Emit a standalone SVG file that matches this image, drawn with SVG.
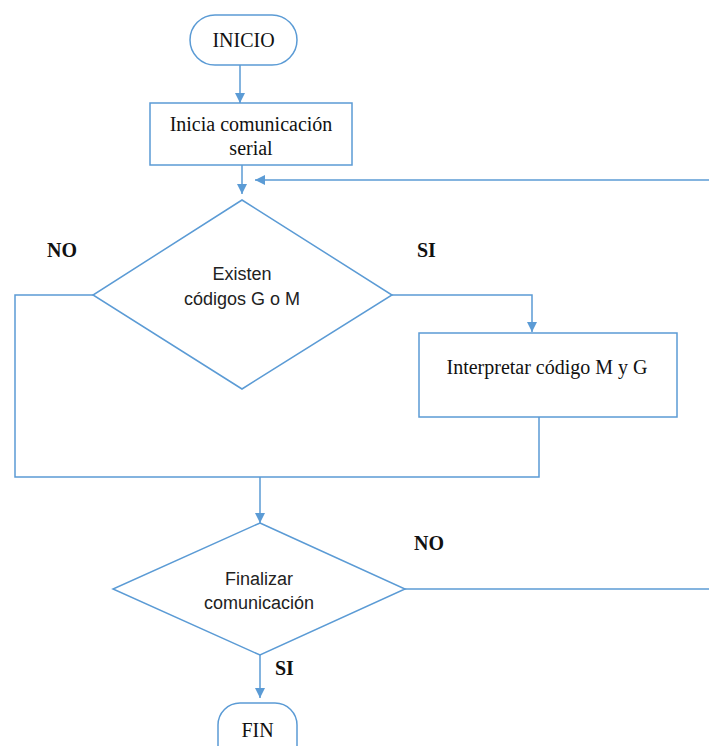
<svg xmlns="http://www.w3.org/2000/svg" width="709" height="746" viewBox="0 0 709 746">
  <style>
    .shape { fill: #ffffff; stroke: #5b9bd5; stroke-width: 1.5; }
    .line { fill: none; stroke: #5b9bd5; stroke-width: 1.5; }
    .serif { font-family: "Liberation Serif", "Times New Roman", serif; font-size: 20px; fill: #111; }
    .sans { font-family: "Liberation Sans", Arial, sans-serif; font-size: 18px; fill: #222; }
    .lbl { font-family: "Liberation Serif", "Times New Roman", serif; font-size: 20px; font-weight: bold; fill: #111; }
  </style>
  <defs>
    <marker id="arrow" viewBox="0 0 10 10" refX="10" refY="5" markerWidth="10" markerHeight="10" markerUnits="userSpaceOnUse" orient="auto">
      <path d="M0,0 L10,5 L0,10 Z" fill="#5b9bd5"/>
    </marker>
  </defs>
  <rect width="709" height="746" fill="#ffffff"/>

  <g id="connectors">
    <line class="line" x1="240" y1="65" x2="240" y2="103" marker-end="url(#arrow)"/>
    <line class="line" x1="242" y1="165" x2="242" y2="194" marker-end="url(#arrow)"/>
    <line class="line" x1="709" y1="180" x2="255" y2="180" marker-end="url(#arrow)"/>
    <polyline class="line" points="392,295 532,295 532,332" marker-end="url(#arrow)"/>
    <polyline class="line" points="93,295 15,295 15,477 539,477 539,417"/>
    <line class="line" x1="260" y1="477" x2="260" y2="523" marker-end="url(#arrow)"/>
    <line class="line" x1="405" y1="589" x2="709" y2="589"/>
    <line class="line" x1="260" y1="655" x2="260" y2="698" marker-end="url(#arrow)"/>
  </g>

  <g id="inicio">
    <rect class="shape" x="190" y="15" width="107" height="50" rx="25" ry="25"/>
    <text class="serif" x="243.5" y="47" text-anchor="middle">INICIO</text>
  </g>

  <g id="inicia-comunicacion">
    <rect class="shape" x="150" y="103" width="202" height="62"/>
    <text class="serif" x="251" y="131" text-anchor="middle">Inicia comunicación</text>
    <text class="serif" x="251" y="155" text-anchor="middle">serial</text>
  </g>

  <g id="existen-codigos">
    <polygon class="shape" points="242,200 392,295 242,389 93,295"/>
    <text class="sans" x="242" y="280" text-anchor="middle">Existen</text>
    <text class="sans" x="242" y="305" text-anchor="middle">códigos G o M</text>
  </g>

  <g id="interpretar">
    <rect class="shape" x="419" y="333" width="258" height="84"/>
    <text class="serif" x="547" y="374" text-anchor="middle">Interpretar código M y G</text>
  </g>

  <g id="finalizar">
    <polygon class="shape" points="260,523 405,589 260,655 113,589"/>
    <text class="sans" x="259" y="585" text-anchor="middle">Finalizar</text>
    <text class="sans" x="259" y="609" text-anchor="middle">comunicación</text>
  </g>

  <g id="fin">
    <rect class="shape" x="218" y="703" width="79" height="70" rx="22" ry="22"/>
    <text class="serif" x="257.5" y="737" text-anchor="middle">FIN</text>
  </g>

  <g id="labels">
    <text class="lbl" x="47" y="257">NO</text>
    <text class="lbl" x="417" y="257">SI</text>
    <text class="lbl" x="414" y="550">NO</text>
    <text class="lbl" x="275" y="675">SI</text>
  </g>
</svg>
